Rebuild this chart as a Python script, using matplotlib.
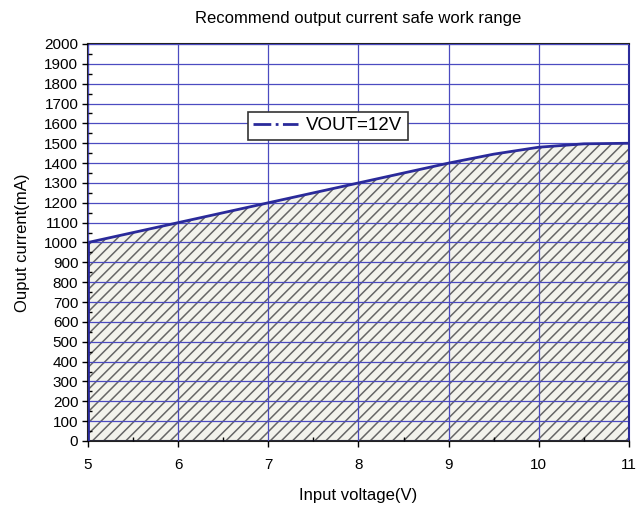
import matplotlib
matplotlib.use("Agg")
import matplotlib.pyplot as plt
import numpy as np
from matplotlib.ticker import MultipleLocator

voltage = [5, 6, 7, 8, 9, 9.5, 10, 10.5, 11]
current = [1000, 1100, 1200, 1300, 1400, 1445, 1480, 1497, 1500]
x_ticks = [5, 6, 7, 8, 9, 10, 11]
y_ticks = list(range(0, 2001, 100))

plt.rcParams['font.family'] = ['Liberation Sans', 'DejaVu Sans']
plt.rcParams['hatch.linewidth'] = 1.1
fig = plt.figure(figsize=(6.39, 5.08), dpi=100)
ax = fig.add_axes([0.1377, 0.1319, 0.8466, 0.7815])

blue = '#2a2a9a'
grid_c = '#4b4bc0'

ax.set_xlim(5, 11)
ax.set_ylim(0, 2000)
ax.set_xticks(x_ticks)
ax.set_yticks(y_ticks)
ax.xaxis.set_minor_locator(MultipleLocator(0.5))
ax.yaxis.set_minor_locator(MultipleLocator(50))
ax.set_axisbelow(False)
ax.grid(True, which='major', color=grid_c, linewidth=0.9)

ax.fill_between(voltage, 0, current, facecolor='#f3f3ec', hatch='///',
                edgecolor='#666666', linewidth=0, zorder=1)
ax.plot(voltage, current, color=blue, linewidth=2, zorder=3)
ax.plot([voltage[0], voltage[0]], [0, current[0]], color=blue, linewidth=2, zorder=3)
ax.plot([voltage[-1], voltage[-1]], [0, current[-1]], color=blue, linewidth=2, zorder=3)

# legend proxy
ax.plot([], [], color=blue, linestyle='-.', linewidth=2, label='VOUT=12V')
leg = ax.legend(loc='upper left', bbox_to_anchor=(0.278, 0.853), fontsize=13.5,
                frameon=True, fancybox=False, edgecolor='#333333', framealpha=1,
                handlelength=2.4, borderpad=0.3, handletextpad=0.4)
leg.get_frame().set_linewidth(1.2)
leg.set_zorder(5)

for s in ['left', 'bottom', 'top', 'right']:
    ax.spines[s].set_linewidth(1.5)
ax.spines['top'].set_color('#222222')
ax.spines['left'].set_color('#222222')
ax.spines['bottom'].set_color('#222222')
ax.spines['right'].set_color(blue)

ax.tick_params(which='major', direction='out', length=4, width=1, labelsize=11, pad=3)
ax.tick_params(which='minor', direction='in', length=3, width=1)
ax.tick_params(axis='x', which='major', pad=8)

ax.set_title('Recommend output current safe work range', fontsize=12, pad=15)
ax.set_xlabel('Input voltage(V)', fontsize=12, labelpad=12)
ax.set_ylabel('Ouput current(mA)', fontsize=12, labelpad=10)

fig.savefig('out.png', dpi=100)
